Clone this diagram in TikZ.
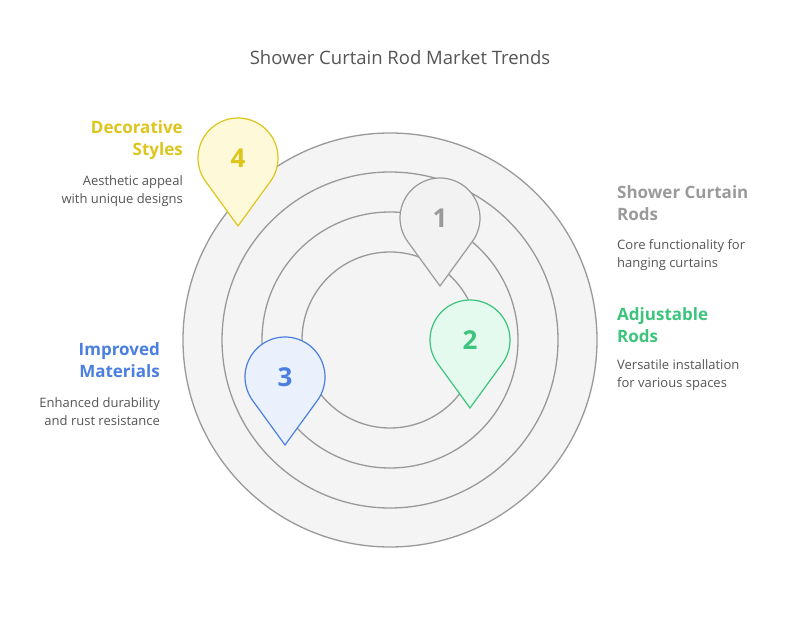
\documentclass[tikz,border=0pt]{standalone}
\usepackage{fontspec}
\setmainfont{Open Sans}
\usetikzlibrary{calc}
\definecolor{ring}{HTML}{999999}
\definecolor{ringfill}{HTML}{F4F4F4}
\definecolor{ylw}{HTML}{DEC51C}
\definecolor{ylwf}{HTML}{FEF9D8}
\definecolor{gry}{HTML}{9A9A9A}
\definecolor{gryf}{HTML}{F2F2F2}
\definecolor{grn}{HTML}{3CC47C}
\definecolor{grnf}{HTML}{E5FAEE}
\definecolor{blu}{HTML}{4A7FE0}
\definecolor{bluf}{HTML}{EAF1FD}
\definecolor{txt}{HTML}{555555}
\newcommand{\mypin}[5]{%
 \draw[line width=1.2pt,draw=#3,fill=#4] (#1,#2)++(-144:40) arc[start angle=-144,end angle=-396,radius=40] -- (#1,#2-68) -- cycle;
 \node[font=\fontsize{26}{28}\selectfont\bfseries,text=#3] (#5) at (#1,#2) {#5};}
\tikzset{
 rg/.style={draw=ring,fill=ringfill,line width=1.3pt},
 hd/.style={font=\fontsize{17}{22}\selectfont\bfseries,align=#1,inner sep=0pt},
 ds/.style={font=\fontsize{13}{18}\selectfont,text=txt,align=#1,inner sep=0pt}}
\begin{document}
\begin{tikzpicture}[x=1pt,y=1pt]
\useasboundingbox (0,0) rectangle (800,627);
\node[font=\fontsize{18.5}{20}\selectfont,text=txt] (title) at (400,569) {Shower Curtain Rod Market Trends};
\path[rg] (390,287) circle[radius=207];
\path[rg] (390,287) circle[radius=168];
\path[rg] (390,287) circle[radius=128];
\path[rg] (390,287) circle[radius=88];
\mypin{238}{469}{ylw}{ylwf}{4}
\mypin{440}{409}{gry}{gryf}{1}
\mypin{470}{287}{grn}{grnf}{2}
\mypin{285}{250}{blu}{bluf}{3}
\node[hd=right,text=ylw,anchor=east] (h4) at (183,487) {Decorative\\Styles};
\node[ds=right,anchor=east] (d4) at (183,436) {Aesthetic appeal\\with unique designs};
\node[hd=left,text=gry,anchor=west] (h1) at (617,424) {Shower Curtain\\Rods};
\node[ds=left,anchor=west] (d1) at (617,372) {Core functionality for\\hanging curtains};
\node[hd=left,text=grn,anchor=west] (h2) at (617,302) {Adjustable\\Rods};
\node[ds=left,anchor=west] (d2) at (617,252) {Versatile installation\\for various spaces};
\node[hd=right,text=blu,anchor=east] (h3) at (160,267) {Improved\\Materials};
\node[ds=right,anchor=east] (d3) at (160,215) {Enhanced durability\\and rust resistance};
\end{tikzpicture}
\end{document}
